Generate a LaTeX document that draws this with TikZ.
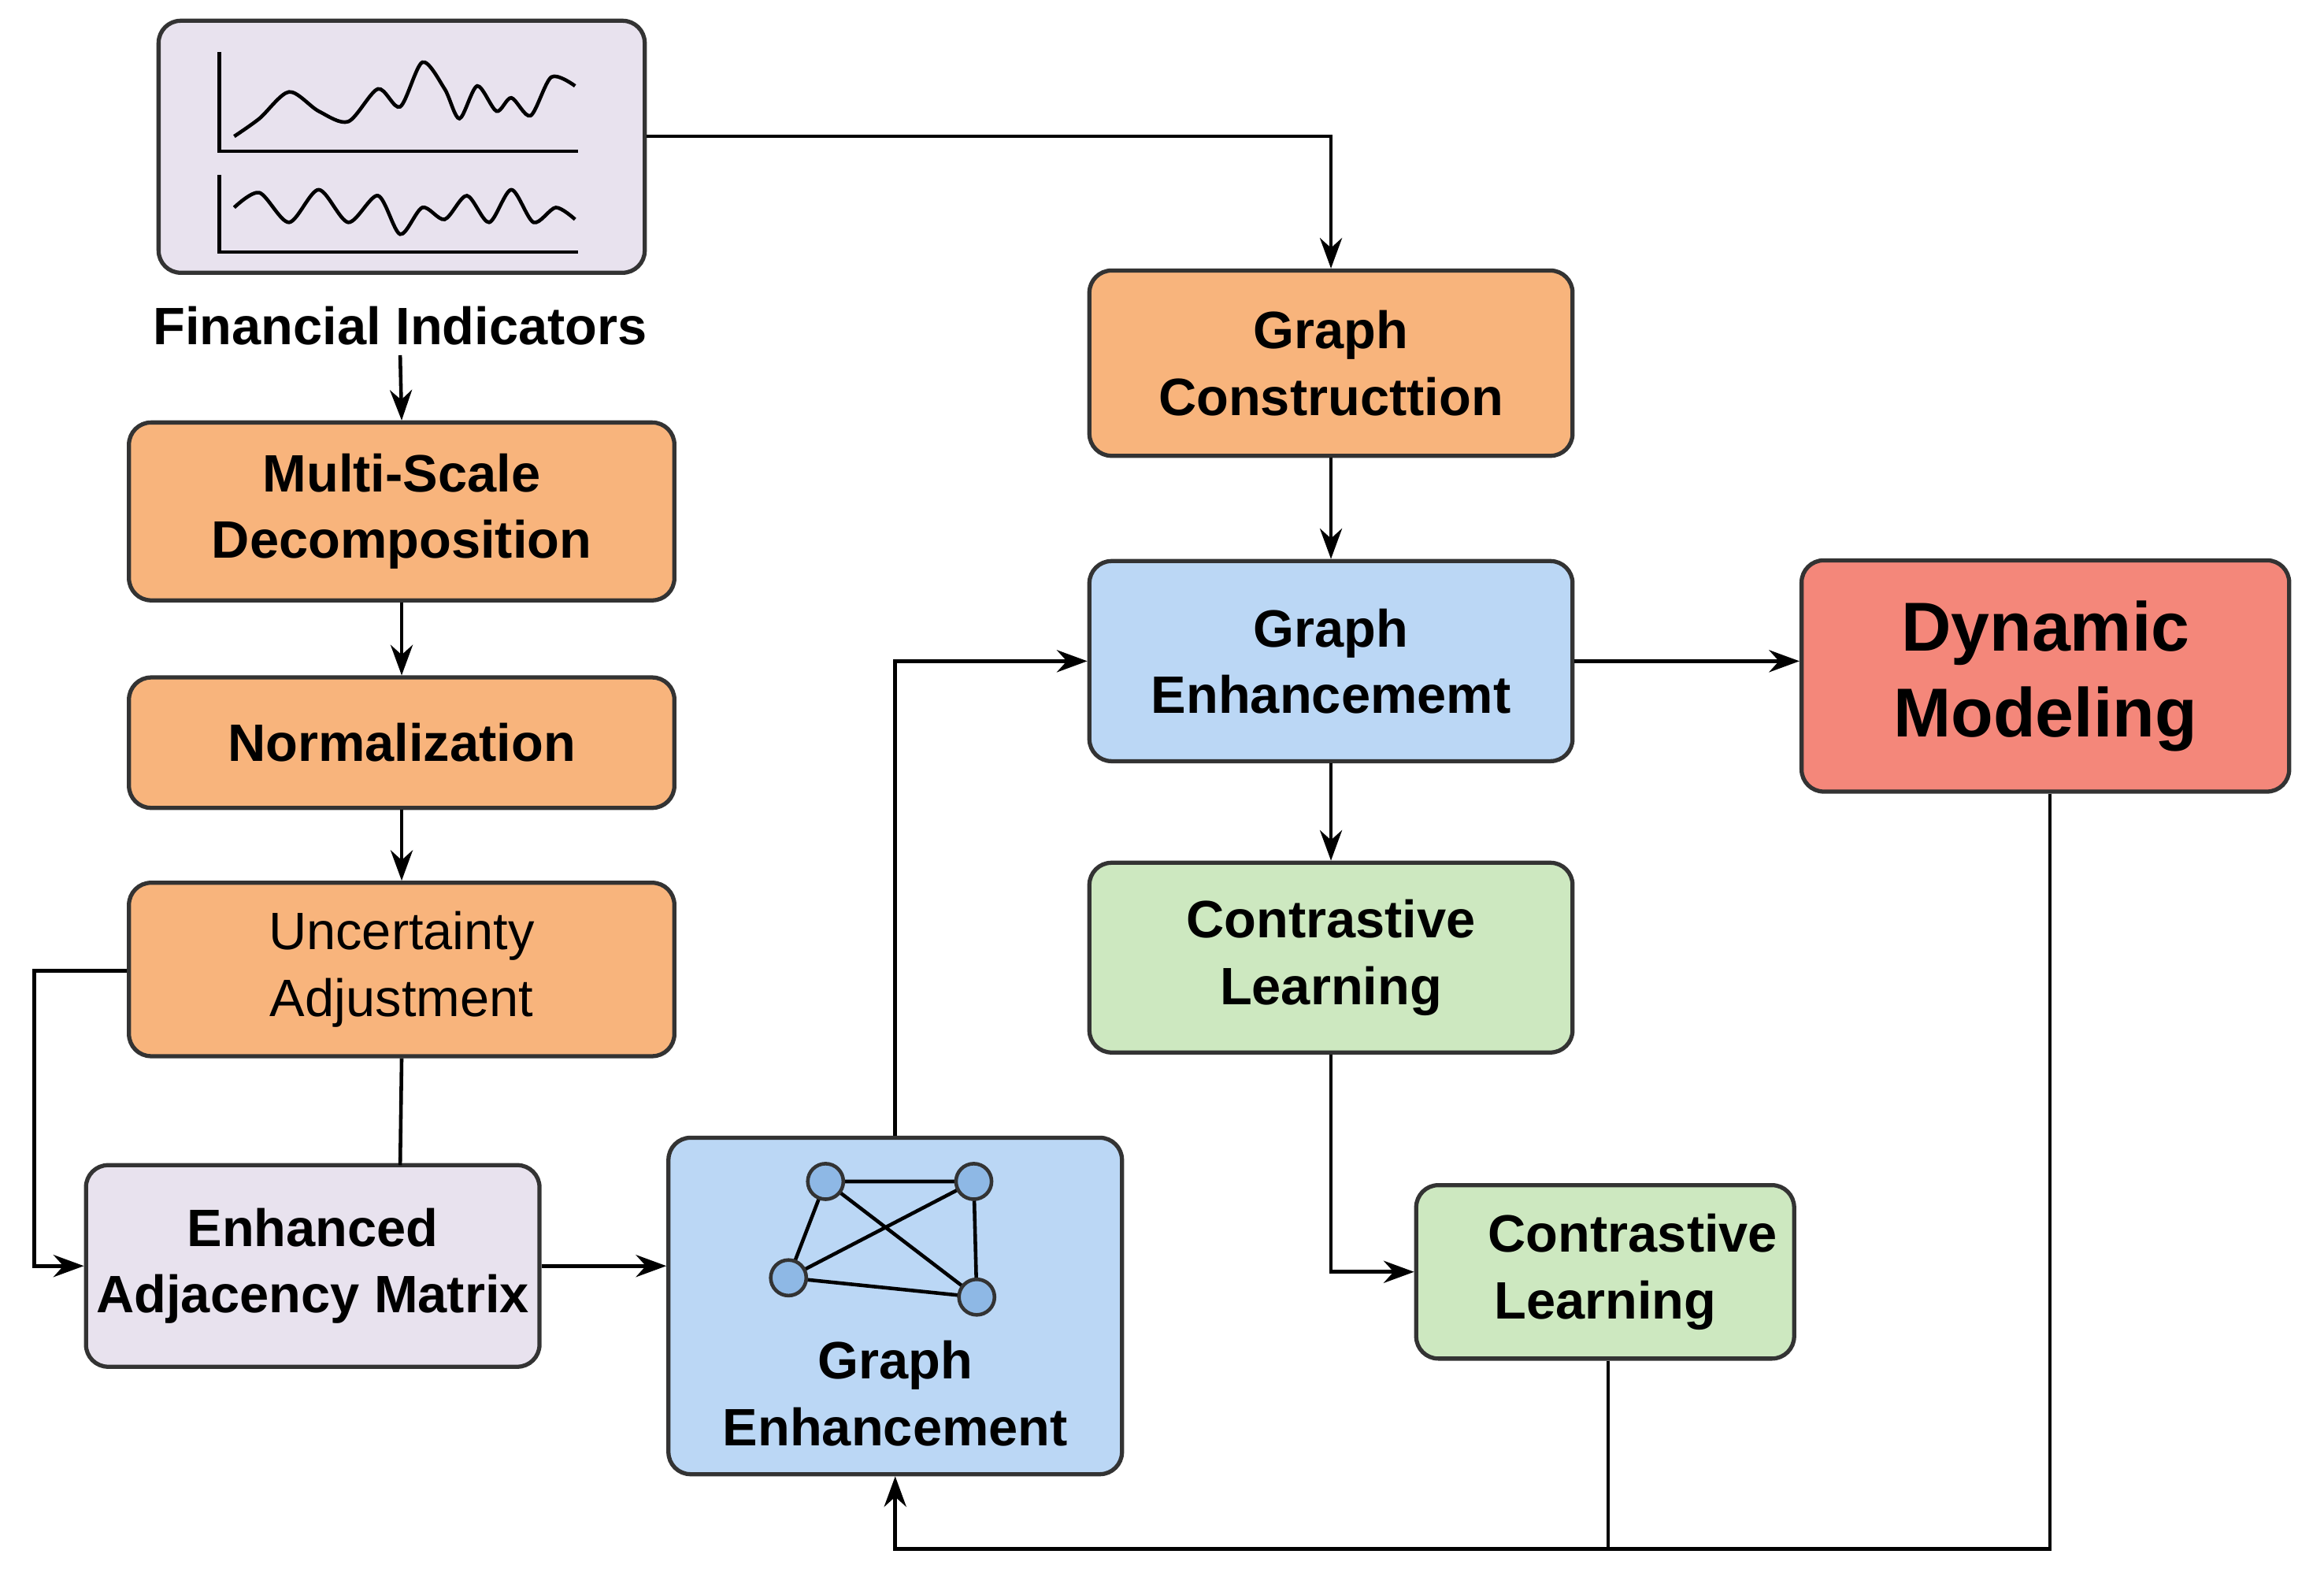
\documentclass[tikz,border=0pt]{standalone}
\usepackage{fontspec}
\setmainfont{Liberation Sans}
\usetikzlibrary{arrows.meta}
\definecolor{org}{HTML}{F8B47C}
\definecolor{lav}{HTML}{E8E2EE}
\definecolor{blu}{HTML}{BBD7F5}
\definecolor{grn}{HTML}{CDE8C0}
\definecolor{red}{HTML}{F4877A}
\definecolor{dot}{HTML}{8EB8E5}
\begin{document}
\begin{tikzpicture}[x=0.01882cm,y=-0.01882cm,
 box/.style={draw=black!80,line width=1.5pt,rounded corners=8pt,align=center,font=\fontsize{19}{24}\selectfont\bfseries,inner sep=0pt},
 ar/.style={-{Stealth[length=11pt,width=8pt]},line width=1.3pt},
 ln/.style={line width=1.3pt},
 wave/.style={line width=1.3pt}]
\useasboundingbox (0,0) rectangle (1568,1075.5);
\node[box,fill=lav,minimum width=328*0.01882cm,minimum height=170*0.01882cm] (chart) at (271,99) {};
\draw[ln] (148,35)--(148,102)--(390,102);
\draw[ln] (148,118)--(148,170)--(390,170);
\draw[wave] plot[smooth] coordinates {(158,92)(175,80)(195,62)(215,75)(235,82)(255,60)(270,72)(285,42)(300,60)(310,80)(322,58)(335,75)(345,66)(358,78)(372,52)(388,58)};
\draw[wave] plot[smooth] coordinates {(158,140)(175,130)(195,150)(215,128)(235,150)(255,132)(270,158)(285,140)(300,148)(315,132)(330,150)(345,128)(360,150)(375,140)(388,148)};
\node[font=\fontsize{19}{24}\selectfont\bfseries] (fi) at (270,220) {Financial Indicators};
\node[box,fill=org,minimum width=368*0.01882cm,minimum height=120*0.01882cm] (msd) at (271,345) {Multi-Scale\\Decomposition};
\node[box,fill=org,minimum width=368*0.01882cm,minimum height=88*0.01882cm] (nor) at (271,501) {Normalization};
\node[box,fill=org,minimum width=368*0.01882cm,minimum height=117*0.01882cm,font=\fontsize{19}{24}\selectfont] (unc) at (271,654) {Uncertainty\\Adjustment};
\node[box,fill=lav,minimum width=306*0.01882cm,minimum height=136*0.01882cm] (eam) at (211,854) {Enhanced\\Adjacency Matrix};
\node[box,fill=blu,minimum width=306*0.01882cm,minimum height=227*0.01882cm,text depth=0pt] (geb) at (604,881) {};
\node[font=\fontsize{19}{24}\selectfont\bfseries,align=center] (gebt) at (604,940) {Graph\\Enhancement};
\foreach \n/\x/\y in {a/557/797,b/657/797,c/532/862,d/659/875}{\coordinate (\n) at (\x,\y);}
\draw[ln] (a)--(b) (a)--(c) (a)--(d) (b)--(c) (b)--(d) (c)--(d);
\foreach \n in {a,b,c,d}{\fill[dot,draw=black!80,line width=1.3pt] (\n) circle (12);}
\node[box,fill=org,minimum width=326*0.01882cm,minimum height=125*0.01882cm] (gc) at (898,245) {Graph\\Constructtion};
\node[box,fill=blu,minimum width=326*0.01882cm,minimum height=135*0.01882cm] (gem) at (898,446) {Graph\\Enhancememt};
\node[box,fill=red,minimum width=329*0.01882cm,minimum height=156*0.01882cm,font=\fontsize{25}{31}\selectfont\bfseries] (dm) at (1380,456) {Dynamic\\Modeling};
\node[box,fill=grn,minimum width=326*0.01882cm,minimum height=128*0.01882cm] (cl1) at (898,646) {Contrastive\\Learning};
\node[box,fill=grn,minimum width=255*0.01882cm,minimum height=117*0.01882cm] (cl2) at (1083,858) {\hspace*{20pt}Contrastive\\Learning};
\draw[ar] (chart.east|-0,92) -| (gc.north);
\draw[ar] (fi.south) -- (msd.north);
\draw[ar] (msd) -- (nor);
\draw[ar] (nor) -- (unc);
\draw[ar] (unc.west|-0,655) -- (23,655) |- (eam.west);
\draw[ln] (unc.south) -- (270,786);
\draw[ar] (eam.east) -- (geb.west|-eam.east);
\draw[ar] (geb.north) |- (gem.west);
\draw[ar] (gc) -- (gem);
\draw[ar] (gem.east) -- (dm.west|-gem.east);
\draw[ar] (gem) -- (cl1);
\draw[ar] (cl1.south) |- (cl2.west);
\draw[ln] (cl2.south-|1085,0) -- (1085,1045);
\draw[ar] (dm.south-|1383,0) -- (1383,1045) -| (geb.south);
\end{tikzpicture}
\end{document}
